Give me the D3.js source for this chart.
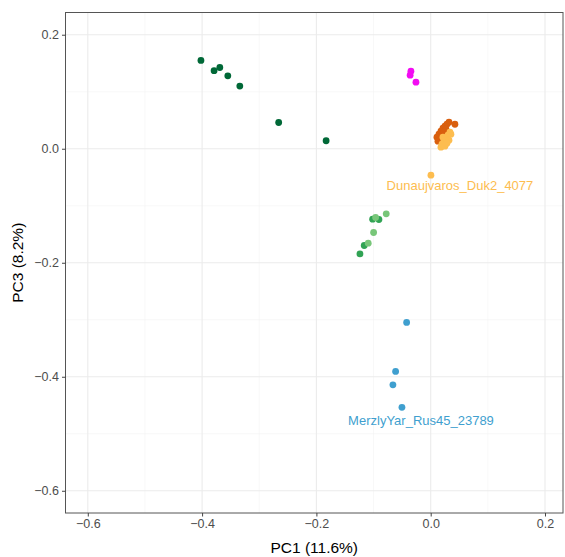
<!DOCTYPE html>
<html>
<head>
<meta charset="utf-8">
<script src="https://cdn.jsdelivr.net/npm/d3@7"></script>
<style>
  body { margin: 0; background: #fff; }
  text { font-family: "Liberation Sans", Arial, sans-serif; }
</style>
</head>
<body>
<div class="canvas"></div>
<script>
// group colours
const groupColors = {
  darkGreen: "#006837",
  magenta: "#f20cf2",
  darkOrange: "#d95f0e",
  lightOrange: "#fdbd4f",
  green: "#31a354",
  lightGreen: "#78c679",
  blue: "#3f9fcf"
};

// points per group: [PC1, PC3]
const darkGreenPts = [
  [-0.402, 0.155], [-0.379, 0.137], [-0.369, 0.1425], [-0.355, 0.128],
  [-0.334, 0.110], [-0.266, 0.046], [-0.183, 0.014]
];
const magentaPts = [[-0.0346, 0.136], [-0.036, 0.129], [-0.0258, 0.1167]];
const darkOrangePts = [
  [0.032, 0.0466], [0.0284, 0.043], [0.0249, 0.0395], [0.0214, 0.036],
  [0.0179, 0.0307], [0.0144, 0.0255], [0.0109, 0.0202], [0.0162, 0.0167],
  [0.0197, 0.0237], [0.0267, 0.0343], [0.0424, 0.043], [0.0232, 0.029],
  [0.0127, 0.0132]
];
const lightOrangePts = [
  [0.0337, 0.029], [0.0302, 0.0237], [0.0267, 0.0185], [0.0232, 0.0132],
  [0.0197, 0.008], [0.0179, 0.0027], [0.0249, 0.0045], [0.032, 0.015],
  [0.0354, 0.0255], [0.0284, 0.0097], [0.0214, 0.0202], [0.0004, -0.0464]
];
const greenPts = [
  [-0.1016, -0.1235], [-0.0906, -0.1241], [-0.1163, -0.1697], [-0.1238, -0.1844]
];
const lightGreenPts = [
  [-0.0964, -0.1206], [-0.0778, -0.1142], [-0.0999, -0.1469], [-0.1093, -0.1656]
];
const bluePts = [
  [-0.0421, -0.3047], [-0.0614, -0.3906], [-0.0661, -0.4141], [-0.0503, -0.4537]
];

// sample labels
const labelNames = ["Dunaujvaros_Duk2_4077", "MerzlyYar_Rus45_23789"];
const labelPos = [[0.0512, -0.064], [-0.017, -0.476]];
const labelGroups = ["lightOrange", "blue"];

const xTicks = [-0.6, -0.4, -0.2, 0.0, 0.2];
const yTicks = [-0.6, -0.4, -0.2, 0.0, 0.2];
const xMinor = [-0.5, -0.3, -0.1, 0.1];
const yMinor = [-0.5, -0.3, -0.1, 0.1];

const dims = { width: 565, height: 557 };
const panel = { left: 65.5, right: 563, top: 12.5, bottom: 513 };

const x = d3.scaleLinear().domain([-0.639, 0.2315]).range([panel.left, panel.right]);
const y = d3.scaleLinear().domain([-0.639, 0.239]).range([panel.bottom, panel.top]);

const svg = d3.select(".canvas").append("svg")
  .attr("width", dims.width)
  .attr("height", dims.height);

// grid
const grid = svg.append("g");
grid.selectAll(".xminor").data(xMinor).enter().append("line")
  .attr("x1", d => x(d)).attr("x2", d => x(d))
  .attr("y1", panel.top).attr("y2", panel.bottom)
  .attr("stroke", "#f3f3f3").attr("stroke-width", 0.6);
grid.selectAll(".yminor").data(yMinor).enter().append("line")
  .attr("y1", d => y(d)).attr("y2", d => y(d))
  .attr("x1", panel.left).attr("x2", panel.right)
  .attr("stroke", "#f3f3f3").attr("stroke-width", 0.6);
grid.selectAll(".xmajor").data(xTicks).enter().append("line")
  .attr("x1", d => x(d)).attr("x2", d => x(d))
  .attr("y1", panel.top).attr("y2", panel.bottom)
  .attr("stroke", "#ebebeb").attr("stroke-width", 1.1);
grid.selectAll(".ymajor").data(yTicks).enter().append("line")
  .attr("y1", d => y(d)).attr("y2", d => y(d))
  .attr("x1", panel.left).attr("x2", panel.right)
  .attr("stroke", "#ebebeb").attr("stroke-width", 1.1);

// points
const series = [
  ["darkGreen", darkGreenPts], ["magenta", magentaPts],
  ["darkOrange", darkOrangePts], ["lightOrange", lightOrangePts],
  ["green", greenPts], ["lightGreen", lightGreenPts], ["blue", bluePts]
];
const pts = svg.append("g");
series.forEach(([name, values]) => {
  pts.selectAll(null).data(values).enter().append("circle")
    .attr("cx", d => x(d[0]))
    .attr("cy", d => y(d[1]))
    .attr("r", 3.4)
    .attr("fill", groupColors[name]);
});

// labels
svg.append("g").selectAll("text").data(labelNames).enter().append("text")
  .attr("x", (d, i) => x(labelPos[i][0]))
  .attr("y", (d, i) => y(labelPos[i][1]))
  .attr("dy", "0.35em")
  .attr("text-anchor", "middle")
  .attr("font-size", 13)
  .attr("fill", (d, i) => groupColors[labelGroups[i]])
  .text(d => d);

// panel border
svg.append("rect")
  .attr("x", panel.left).attr("y", panel.top)
  .attr("width", panel.right - panel.left)
  .attr("height", panel.bottom - panel.top)
  .attr("fill", "none").attr("stroke", "#555").attr("stroke-width", 1);

// axes
const fmt = d => d3.format(".1f")(d).replace("-", "\u2212");
const xAxis = svg.append("g")
  .attr("transform", `translate(0, ${panel.bottom})`)
  .call(d3.axisBottom(x).tickValues(xTicks).tickFormat(fmt).tickSize(3.5).tickPadding(3));
const yAxis = svg.append("g")
  .attr("transform", `translate(${panel.left}, 0)`)
  .call(d3.axisLeft(y).tickValues(yTicks).tickFormat(fmt).tickSize(3.5).tickPadding(3));
[xAxis, yAxis].forEach(a => {
  a.select(".domain").remove();
  a.selectAll(".tick line").attr("stroke", "#444");
  a.selectAll(".tick text").attr("fill", "#4d4d4d")
    .attr("font-size", 12.5)
    .attr("font-family", "Liberation Sans, Arial, sans-serif");
});

// titles
svg.append("text")
  .attr("x", (panel.left + panel.right) / 2)
  .attr("y", 553)
  .attr("text-anchor", "middle")
  .attr("font-size", 15.5)
  .attr("fill", "#000")
  .text("PC1 (11.6%)");
svg.append("text")
  .attr("transform", `translate(23, ${(panel.top + panel.bottom) / 2}) rotate(-90)`)
  .attr("text-anchor", "middle")
  .attr("font-size", 15.5)
  .attr("fill", "#000")
  .text("PC3 (8.2%)");
</script>
</body>
</html>
